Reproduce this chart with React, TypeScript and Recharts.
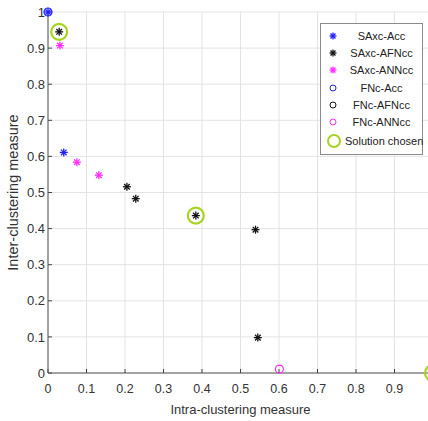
import { ScatterChart, Scatter, XAxis, YAxis, CartesianGrid } from 'recharts'

// values (x = intra, y = inter)
const saxcAcc = [
  { x: 0, y: 1 },
  { x: 0.041, y: 0.611 },
]
const saxcAfncc = [
  { x: 0.029, y: 0.945 },
  { x: 0.205, y: 0.516 },
  { x: 0.228, y: 0.483 },
  { x: 0.384, y: 0.436 },
  { x: 0.539, y: 0.397 },
  { x: 0.545, y: 0.098 },
]
const saxcAnncc = [
  { x: 0.031, y: 0.907 },
  { x: 0.075, y: 0.584 },
  { x: 0.132, y: 0.548 },
]
const fncAcc = [{ x: 0, y: 1 }]
const fncAfncc = [{ x: 1, y: 0 }]
const fncAnncc = [{ x: 0.601, y: 0.011 }]
const chosen = [
  { x: 0.029, y: 0.945 },
  { x: 0.384, y: 0.436 },
  { x: 1, y: 0 },
]

// the "1" on x falls outside the cropped figure
const xTicks = [0, 0.1, 0.2, 0.3, 0.4, 0.5, 0.6, 0.7, 0.8, 0.9]
const yTicks = [0, 0.1, 0.2, 0.3, 0.4, 0.5, 0.6, 0.7, 0.8, 0.9, 1]

const BLUE = '#1f1fff'
const BLACK = '#111111'
const MAGENTA = '#ff2bff'
const GREEN = '#a6d421'
const FONT = '"Liberation Sans", Arial, sans-serif'

const star = (color: string, r = 4) => (props: any) => {
  const { cx, cy } = props
  const d = r * 0.7
  return (
    <g stroke={color} strokeWidth={1.3}>
      <line x1={cx - r} y1={cy} x2={cx + r} y2={cy} />
      <line x1={cx} y1={cy - r} x2={cx} y2={cy + r} />
      <line x1={cx - d} y1={cy - d} x2={cx + d} y2={cy + d} />
      <line x1={cx - d} y1={cy + d} x2={cx + d} y2={cy - d} />
    </g>
  )
}

const ring = (color: string, r: number, w: number) => (props: any) => (
  <circle cx={props.cx} cy={props.cy} r={r} fill="none" stroke={color} strokeWidth={w} />
)

const legendItems = [
  { name: 'SAxc-Acc', icon: 'star', color: BLUE },
  { name: 'SAxc-AFNcc', icon: 'star', color: BLACK },
  { name: 'SAxc-ANNcc', icon: 'star', color: MAGENTA },
  { name: 'FNc-Acc', icon: 'circle', color: BLUE },
  { name: 'FNc-AFNcc', icon: 'circle', color: BLACK },
  { name: 'FNc-ANNcc', icon: 'circle', color: MAGENTA },
  { name: 'Solution chosen', icon: 'big', color: GREEN },
]

const LegendBox = () => (
  <div
    style={{
      position: 'absolute',
      left: 320,
      top: 23,
      border: '1px solid #8a8a8a',
      background: '#fff',
      width: 101,
      padding: '3px 0 3px 0',
      fontFamily: FONT,
      fontSize: 11,
      color: '#222',
    }}
  >
    {legendItems.map((it) => (
      <div key={it.name} style={{ display: 'flex', alignItems: 'center', height: it.icon === 'big' ? 20 : 17.3 }}>
        <svg width={24} height={16} style={{ flexShrink: 0 }}>
          {it.icon === 'star' && star(it.color, 3.5)({ cx: 12, cy: 8 })}
          {it.icon === 'circle' && <circle cx={12} cy={8} r={3} fill="none" stroke={it.color} strokeWidth={1} />}
          {it.icon === 'big' && <circle cx={13} cy={8} r={6} fill="none" stroke={it.color} strokeWidth={2} />}
        </svg>
        <span style={{ flex: 1, textAlign: 'center', whiteSpace: 'nowrap', paddingRight: 4 }}>{it.name}</span>
      </div>
    ))}
  </div>
)

export default function App() {
  return (
    <div style={{ position: 'fixed', left: 0, top: 0, width: 428, height: 421, overflow: 'hidden', background: '#fff' }}>
      <ScatterChart width={440} height={421} margin={{ top: 12, right: 7, bottom: 0, left: 0 }}>
        <CartesianGrid stroke="#e3e3e3" />
        <XAxis
          type="number"
          dataKey="x"
          domain={[0, 1]}
          ticks={xTicks}
          height={48}
          tickSize={-4}
          tickMargin={15}
          tickLine={{ stroke: '#444' }}
          axisLine={{ stroke: '#555' }}
          tick={{ fontSize: 12.5, fill: '#333', fontFamily: FONT }}
          label={{ value: 'Intra-clustering measure', position: 'insideBottom', offset: 7, fontSize: 13, fill: '#333', fontFamily: FONT }}
        />
        <YAxis
          type="number"
          dataKey="y"
          domain={[0, 1]}
          ticks={yTicks}
          width={48}
          tickSize={-4}
          tickMargin={7}
          tickLine={{ stroke: '#444' }}
          axisLine={{ stroke: '#555' }}
          tick={{ fontSize: 13, fill: '#333', fontFamily: FONT }}
          label={{ value: 'Inter-clustering measure', angle: -90, position: 'insideLeft', offset: 13, style: { textAnchor: 'middle' }, fontSize: 14.5, fill: '#333', fontFamily: FONT }}
        />
        <Scatter name="FNc-Acc" data={fncAcc} shape={ring(BLUE, 4, 1.2)} isAnimationActive={false} />
        <Scatter name="FNc-AFNcc" data={fncAfncc} shape={ring(BLACK, 4, 1)} isAnimationActive={false} />
        <Scatter name="FNc-ANNcc" data={fncAnncc} shape={ring(MAGENTA, 4, 1.2)} isAnimationActive={false} />
        <Scatter name="SAxc-Acc" data={saxcAcc} shape={star(BLUE)} isAnimationActive={false} />
        <Scatter name="SAxc-AFNcc" data={saxcAfncc} shape={star(BLACK)} isAnimationActive={false} />
        <Scatter name="SAxc-ANNcc" data={saxcAnncc} shape={star(MAGENTA)} isAnimationActive={false} />
        <Scatter name="Solution chosen" data={chosen} shape={ring(GREEN, 8, 2.2)} isAnimationActive={false} />
      </ScatterChart>
      <LegendBox />
    </div>
  )
}
